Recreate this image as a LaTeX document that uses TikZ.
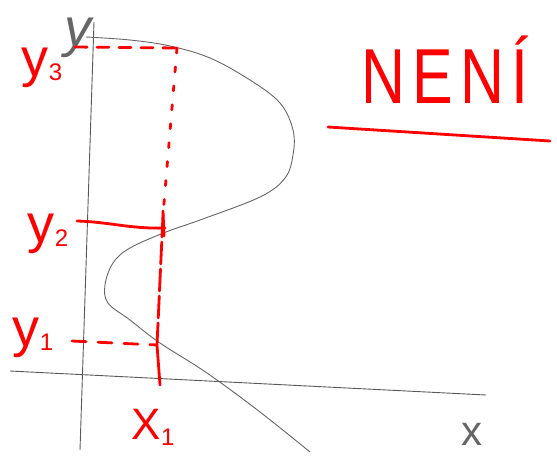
\documentclass[tikz,border=0pt]{standalone}
\usepackage{fontspec}
\setmainfont{Liberation Sans}
\begin{document}
\begin{tikzpicture}[x=1pt,y=-1pt,
  ax/.style={draw=black!65,line width=0.9pt},
  crv/.style={draw=black!60,line width=0.9pt},
  rd/.style={draw=red,line width=2.8pt,line cap=round},
  rlab/.style={text=red,inner sep=0pt},
  glab/.style={text=black!60,inner sep=0pt}]
\useasboundingbox (0,0) rectangle (557,456);
% axes
\coordinate (ytop) at (94,22);
\coordinate (ybot) at (80,450);
\coordinate (xl) at (10,371);
\coordinate (xr) at (486,395);
\draw[ax] (ytop) -- (ybot);
\draw[ax] (xl) -- (xr);
% curve
\draw[crv] plot[smooth,tension=0.6] coordinates {(86,37) (130,40) (170,46) (210,58) (250,80) (280,103) (293,130) (293,155) (285,178) (260,197) (200,220) (166,232) (130,248) (113,263) (105,285) (108,303) (130,320) (160,343) (207,373) (260,412) (310,452)};
% labels
\node[glab,font=\fontsize{54}{54}\selectfont\itshape] (ylab) at (78,38) {y};
\node[glab,font=\fontsize{42}{42}\selectfont] (xlab) at (472,434) {x};
\node[rlab,font=\fontsize{54}{54}\selectfont] (y3) at (42,68) {y\raisebox{-4pt}{\fontsize{24}{24}\selectfont 3}};
\node[rlab,font=\fontsize{54}{54}\selectfont] (y2) at (48,234) {y\raisebox{-4pt}{\fontsize{24}{24}\selectfont 2}};
\node[rlab,font=\fontsize{54}{54}\selectfont] (y1) at (33,338) {y\raisebox{-4pt}{\fontsize{24}{24}\selectfont 1}};
\node[rlab,font=\fontsize{44}{44}\selectfont] (x1) at (153,427) {X\raisebox{-6pt}{\fontsize{24}{24}\selectfont 1}};
\node[rlab,font=\fontsize{78}{78}\selectfont\addfontfeature{LetterSpace=12},xscale=0.78,transform shape] (neni) at (445,70) {NENÍ};
% red guides
\coordinate (a3) at (75,47);
\coordinate (b3) at (177,48);
\coordinate (a2) at (77,221);
\coordinate (b2) at (165,228);
\coordinate (a1) at (72,341);
\coordinate (b1) at (157,345);
\coordinate (v2) at (163,215);
\coordinate (vt) at (160,385);
\coordinate (ul) at (328,127);
\coordinate (ur) at (550,141);
\draw[rd,dash pattern=on 12pt off 10pt] (a3) -- (b3);
\draw[rd,dash pattern=on 5pt off 14pt] (b3) -- (v2);
\draw[rd,dash pattern=on 22pt off 5pt] (v2) -- (b1);
\draw[rd] (b1) -- (vt);
\draw[rd] (a2) .. controls (110,222) and (130,229) .. (b2);
\draw[rd] (163,211) -- (164,236);
\draw[rd,dash pattern=on 14pt off 12pt] (a1) -- (b1);
\draw[rd] (ul) -- (ur);
\end{tikzpicture}
\end{document}
